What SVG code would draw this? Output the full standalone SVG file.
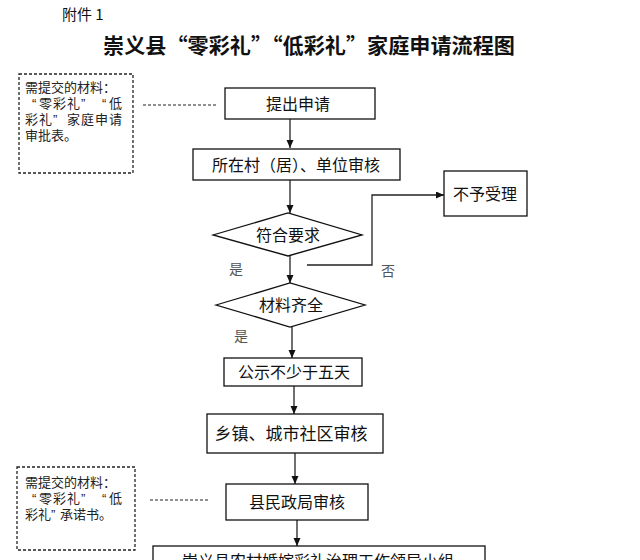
<svg xmlns="http://www.w3.org/2000/svg" width="640" height="560" viewBox="0 0 640 560">
<style>
  .box { fill: #fff; stroke: #111; stroke-width: 1.3; }
  .note { fill: #fff; stroke: #222; stroke-width: 1.3; stroke-dasharray: 3 2; }
  .dash { fill: none; stroke: #222; stroke-width: 1.2; stroke-dasharray: 3 2; }
  .conn { fill: none; stroke: #222; stroke-width: 1.3; }
  .t { font-family: "Noto Sans CJK SC", "Noto Sans CJK JP", sans-serif; fill: #111; }
  .c16 { font-size: 16px; text-anchor: middle; }
  .n { font-family: "Liberation Sans", "Noto Sans CJK SC", sans-serif; font-size: 13px; fill: #222; }
  .lab { font-size: 14px; fill: #555; }
</style>
<defs>
  <marker id="ah" markerUnits="userSpaceOnUse" markerWidth="9" markerHeight="8" refX="8" refY="3.5" orient="auto">
    <path d="M0,0 L8,3.5 L0,7 z" fill="#111"/>
  </marker>
</defs>
<rect width="640" height="560" fill="#fff"/>

<g id="header">
  <text class="t" x="62" y="20" font-size="15">附件 1</text>
  <text class="t" x="103" y="53" font-size="21" font-weight="bold" textLength="412" lengthAdjust="spacingAndGlyphs">崇义县“零彩礼”“低彩礼”家庭申请流程图</text>
</g>

<g id="connectors">
  <line class="conn" x1="290" y1="119" x2="290" y2="148" marker-end="url(#ah)"/>
  <line class="conn" x1="290" y1="180" x2="290" y2="213" marker-end="url(#ah)"/>
  <line class="conn" x1="290" y1="256" x2="290" y2="283" marker-end="url(#ah)"/>
  <line class="conn" x1="292" y1="327" x2="292" y2="358" marker-end="url(#ah)"/>
  <line class="conn" x1="294" y1="386" x2="294" y2="414" marker-end="url(#ah)"/>
  <line class="conn" x1="295" y1="453" x2="295" y2="484" marker-end="url(#ah)"/>
  <line class="conn" x1="297" y1="520" x2="297" y2="546" marker-end="url(#ah)"/>
  <polyline class="conn" points="307,265 372,265 372,195 444,195" marker-end="url(#ah)"/>
  <line class="dash" x1="143" y1="105" x2="216" y2="105"/>
  <line class="dash" x1="150" y1="500" x2="208" y2="500"/>
  <text class="t lab" x="229" y="274">是</text>
  <text class="t lab" x="381" y="276">否</text>
  <text class="t lab" x="234" y="341">是</text>
</g>

<g id="note1">
  <rect class="note" x="19" y="74" width="114" height="99"/>
  <text class="n">
    <tspan x="25" y="92">需提交的材料：</tspan>
    <tspan x="32 39 53 67 81 102 109" y="108">“零彩礼”“低</tspan>
    <tspan x="25 39 53 67 81 95 109" y="124">彩礼”家庭申请</tspan>
    <tspan x="25" y="140">审批表。</tspan>
  </text>
</g>

<g id="note2">
  <rect class="note" x="17" y="467" width="118" height="83"/>
  <text class="n">
    <tspan x="25" y="487">需提交的材料：</tspan>
    <tspan x="32 39 53 67 81 102 109" y="503">“零彩礼”“低</tspan>
    <tspan x="25 38 51 60 73 86 99" y="519">彩礼”承诺书。</tspan>
  </text>
</g>

<g id="n-apply">
  <rect class="box" x="225" y="88" width="150" height="31"/>
  <text class="t c16" x="298" y="110">提出申请</text>
</g>

<g id="n-village">
  <rect class="box" x="193" y="149" width="207" height="31"/>
  <text class="t c16" x="296" y="171">所在村（居）、单位审核</text>
</g>

<g id="n-reject">
  <rect class="box" x="444" y="171" width="83" height="45"/>
  <text class="t c16" x="485" y="200">不予受理</text>
</g>

<g id="n-check1">
  <polygon class="box" points="213,235 288,213 362,235 288,256"/>
  <text class="t c16" x="288" y="241">符合要求</text>
</g>

<g id="n-check2">
  <polygon class="box" points="216,305 290,283 365,305 290,327"/>
  <text class="t c16" x="291" y="311">材料齐全</text>
</g>

<g id="n-publicity">
  <rect class="box" x="224" y="358" width="138" height="28"/>
  <text class="t c16" x="294" y="378">公示不少于五天</text>
</g>

<g id="n-town">
  <rect class="box" x="207" y="414" width="176" height="39"/>
  <text class="t" x="291" y="440" font-size="17" text-anchor="middle">乡镇、城市社区审核</text>
</g>

<g id="n-civil">
  <rect class="box" x="226" y="484" width="142" height="36"/>
  <text class="t c16" x="297" y="508">县民政局审核</text>
</g>

<g id="n-leader">
  <rect class="box" x="153" y="546" width="332" height="40"/>
  <text class="t c16" x="318" y="567">崇义县农村婚嫁彩礼治理工作领导小组</text>
</g>
</svg>
